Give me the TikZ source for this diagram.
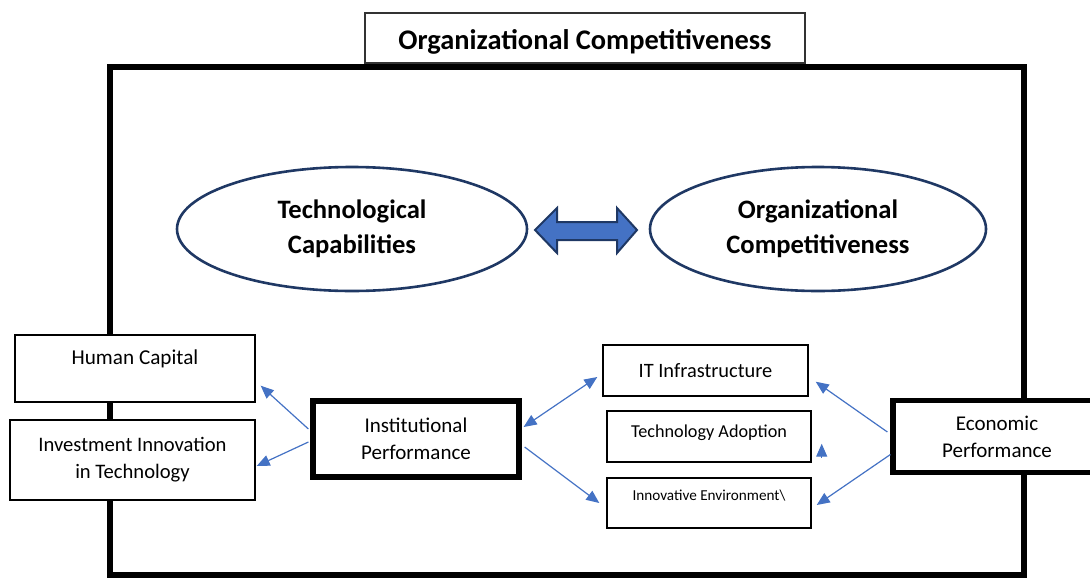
\documentclass[tikz,border=0pt]{standalone}
\usepackage{fontspec}
\setmainfont{Carlito}
\usetikzlibrary{arrows.meta, shapes.geometric}

\definecolor{linkblue}{HTML}{4472C4}
\definecolor{navy}{HTML}{1F3864}

\begin{document}
\begin{tikzpicture}[
	x=0.5pt, y=-0.5pt,
	box/.style = {draw, fill=white, line width=0.7pt, inner sep=0pt, align=center,
		font=\fontsize{10.3}{13.5}\selectfont},
	hub/.style = {box, line width=2.6pt, font=\fontsize{10.5}{13.5}\selectfont},
	oval/.style = {ellipse, draw=navy, fill=white, line width=1.3pt, inner sep=0pt, align=center,
		font=\bfseries\fontsize{13.3}{17.5}\selectfont},
	lift/.style = {text depth=#1},
	link/.style = {draw=linkblue, line width=0.6pt, -{Triangle[length=6.5pt, width=5.5pt]}},
	link2/.style = {link, {Triangle[length=6.5pt, width=5.5pt]}-{Triangle[length=6.5pt, width=5.5pt]}}
	]
	\useasboundingbox (0,0) rectangle (1090,578);
%
	% outer frame
	\draw[line width=2.6pt] (110,67) rectangle (1024,575);
	\node (title) [box, draw=black!80, minimum width=220pt, minimum height=25pt, text height=14pt,
		font=\bfseries\fontsize{14.2}{16}\selectfont] at (585,38) {Organizational Competitiveness};
%
	\node (tech) [oval, minimum width=175pt, minimum height=62pt] at (352,229) {Technological\\Capabilities};
	\node (comp) [oval, minimum width=168pt, minimum height=62pt] at (818,229) {Organizational\\Competitiveness};
	\path[draw=navy, line width=1pt, fill=linkblue]
		(535,230) -- (557,208) -- (557,222) -- (617,222) -- (617,208) -- (637,230)
		-- (617,253) -- (617,240) -- (557,240) -- (557,253) -- cycle;
%
	\node (hc)   [box, lift=11pt, minimum width=120pt, minimum height=33.5pt,
		font=\fontsize{10.6}{13}\selectfont] at (135,368.5) {Human Capital};
	\node (inv)  [box, minimum width=122.5pt, minimum height=40pt] at (132.5,460) {Investment Innovation\\in Technology};
	\node (inst) [hub, minimum width=103pt, minimum height=38pt] at (416,439) {Institutional\\Performance};
	\node (econ) [hub, minimum width=104pt, minimum height=36pt] at (997,436.5) {Economic\\Performance};
%
	\node (it)    [box, minimum width=102.5pt, minimum height=25.5pt,
		font=\fontsize{10.2}{12}\selectfont] at (705.5,370.5) {IT Infrastructure};
	\node (adopt) [box, lift=5pt, minimum width=102pt, minimum height=25.5pt,
		font=\fontsize{9.1}{11}\selectfont] at (709,436.5) {Technology Adoption};
	\node (inno)  [box, lift=8pt, minimum width=102pt, minimum height=25pt,
		font=\fontsize{7.6}{9}\selectfont] at (709,503) {Innovative Environment\textbackslash};
%
	\draw[link] ([shift={(-2,-10)}] inst.west) -- ([shift={(5,-17)}] hc.south east);
	\draw[link] ([shift={(-2,3)}] inst.west) -- ([shift={(1,6)}] inv.east);
	\draw[link2] ([shift={(2,-12)}] inst.east) -- ([shift={(-5,6.5)}] it.west);
	\draw[link] ([shift={(3,8)}] inst.east) -- ([shift={(-7,0)}] inno.west);
	\draw[link] ([shift={(-3,-4.5)}] econ.west) -- ([shift={(7,-15)}] it.south east);
	\draw[link] ([shift={(0,18)}] econ.west) -- ([shift={(5,2)}] inno.east);
%
	\coordinate (adopt tip) at ([shift={(10,-19)}] adopt.south east);
	\draw[link] ([shift={(10,-5)}] adopt.south east) -- (adopt tip);
\end{tikzpicture}
\end{document}
